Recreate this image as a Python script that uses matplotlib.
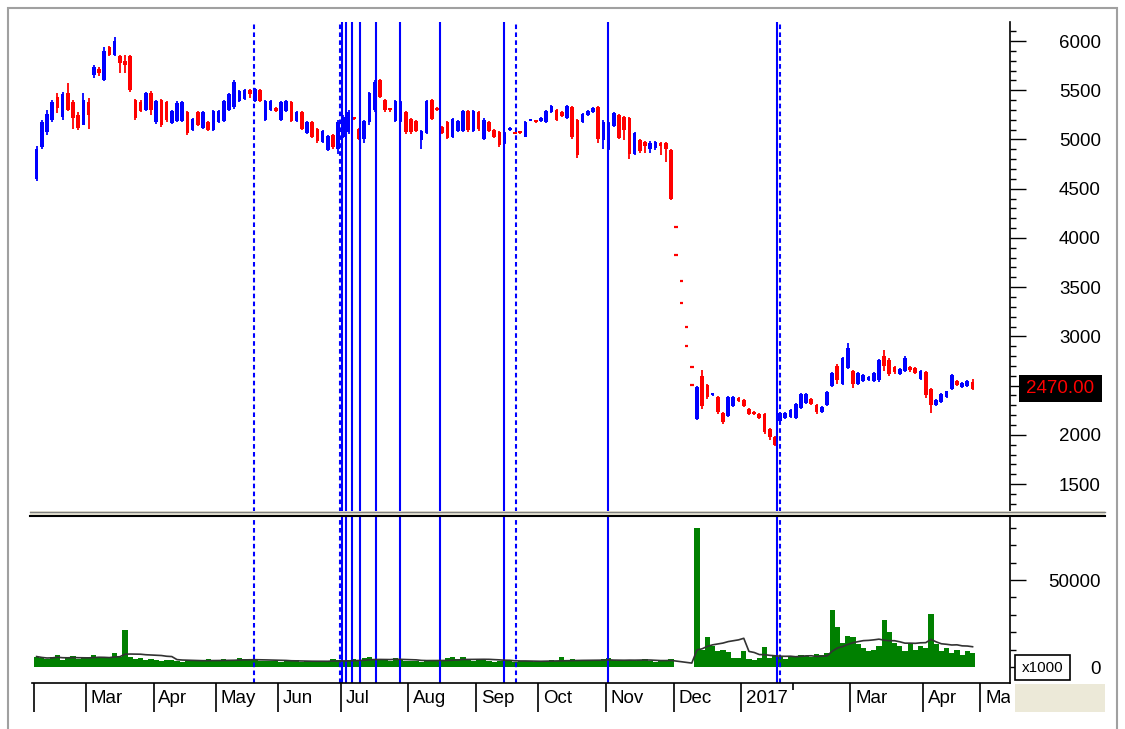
import numpy as np
import pandas as pd
import matplotlib
matplotlib.use("Agg")
import matplotlib.pyplot as plt
from matplotlib.patches import Rectangle
from matplotlib.lines import Line2D

plt.rcParams['font.family'] = ['Liberation Sans', 'DejaVu Sans']

# month separators on the date row (Feb 2016 partial .. May 2017), bars per month
month_labels = ['', 'Mar', 'Apr', 'May', 'Jun', 'Jul', 'Aug', 'Sep', 'Oct', 'Nov',
                'Dec', '2017', '', 'Mar', 'Apr', 'May']
month_bars = [10, 13, 12, 12, 12, 13, 13, 12, 13, 13, 13, 10, 11, 14, 11]

#region daily price data (one entry per bar)
opens = [
    4600, 4920, 5080, 5200, 5430, 5230, 5470, 5380, 5250, 5150,                      # Feb
    5380, 5650, 5720, 5600, 5940, 5860, 5850, 5800, 5850, 5400, 5380, 5300, 5470,    # Mar
    5180, 5400, 5380, 5170, 5190, 5190, 5280, 5100, 5280, 5120, 5180, 5100,          # Apr
    5180, 5190, 5300, 5330, 5390, 5410, 5500, 5390, 5500, 5200, 5300, 5320,          # May
    5200, 5290, 5380, 5190, 5280, 5070, 5180, 5110, 4970, 4890, 5050, 4900,          # Jun
    5020, 5080, 5220, 5110, 5000, 5180, 5300, 5600, 5400, 5310, 5190, 5190, 5280,    # Jul
    5210, 5190, 4990, 5070, 5400, 5310, 5130, 5180, 5020, 5090, 5090, 5290, 5090,    # Aug
    5280, 5000, 5180, 5100, 5080, 4960, 5100, 5070, 5075, 5030, 5190, 5195,          # Sep
    5190, 5180, 5280, 5300, 5280, 5220, 5330, 5200, 5180, 5250, 5280, 5330, 4990,    # Oct
    4900, 5140, 5250, 5230, 5220, 4850, 4990, 4970, 4900, 4910, 4960, 4960, 4890,    # Nov
    4110, 3560, 3100, 2690, 2160, 2600, 2510, 2400, 2380, 2220, 2190, 2290, 2370,    # Dec
    2350, 2260, 2230, 2210, 2210, 2060, 1980, 2140, 2170, 2180,                      # Jan
    2170, 2270, 2320, 2360, 2300, 2230, 2300, 2500, 2700, 2520, 2680,                # Feb
    2650, 2520, 2550, 2560, 2550, 2560, 2800, 2760, 2690, 2620, 2650, 2690, 2680, 2570,  # Mar
    2640, 2470, 2300, 2330, 2380, 2470, 2550, 2490, 2500, 2540,                      # Apr
]
highs = [
    4930, 5200, 5300, 5400, 5470, 5480, 5570, 5400, 5280, 5470,
    5420, 5760, 5740, 5940, 5945, 6040, 5860, 5860, 5860, 5410, 5400, 5480, 5490,
    5400, 5410, 5390, 5300, 5390, 5390, 5290, 5220, 5290, 5290, 5190, 5300,
    5300, 5400, 5470, 5600, 5500, 5510, 5510, 5520, 5510, 5400, 5400, 5330,
    5390, 5400, 5390, 5290, 5290, 5190, 5190, 5120, 5100, 5050, 5060, 5200,
    5250, 5300, 5230, 5120, 5200, 5480, 5600, 5610, 5410, 5320, 5400, 5390, 5290,
    5220, 5200, 5100, 5400, 5410, 5330, 5140, 5190, 5220, 5200, 5300, 5300, 5300,
    5290, 5220, 5190, 5110, 5090, 5080, 5130, 5075, 5080, 5190, 5205, 5200,
    5230, 5300, 5350, 5310, 5290, 5350, 5340, 5210, 5270, 5300, 5330, 5340, 5200,
    5180, 5280, 5260, 5240, 5230, 5080, 5000, 4980, 4980, 4980, 4970, 4970, 4900,
    4110, 3560, 3100, 2690, 2500, 2660, 2520, 2420, 2390, 2230, 2390, 2390, 2380,
    2360, 2270, 2240, 2220, 2220, 2070, 1990, 2230, 2230, 2260,
    2320, 2420, 2420, 2370, 2310, 2290, 2440, 2640, 2720, 2790, 2930,
    2660, 2640, 2620, 2600, 2640, 2770, 2860, 2780, 2700, 2680, 2800, 2700, 2690, 2660,
    2650, 2480, 2360, 2420, 2450, 2620, 2560, 2540, 2560, 2570,
]
lows = [
    4575, 4900, 5045, 5180, 5265, 5200, 5290, 5110, 5100, 5150,
    5110, 5620, 5640, 5590, 5850, 5850, 5670, 5670, 5480, 5200, 5280, 5290, 5250,
    5160, 5130, 5180, 5160, 5180, 5180, 5050, 5090, 5140, 5110, 5090, 5090,
    5170, 5180, 5290, 5310, 5380, 5400, 5420, 5380, 5380, 5190, 5290, 5280,
    5190, 5280, 5180, 5180, 5100, 5060, 5010, 4960, 4960, 4880, 4900, 4850,
    5010, 5060, 5200, 4990, 4960, 5150, 5280, 5420, 5280, 5280, 5180, 5180, 5060,
    5060, 5080, 4900, 5060, 5200, 5290, 5060, 5000, 5010, 5080, 5080, 5080, 5080,
    5090, 4990, 5080, 5010, 4920, 4950, 5090, 5055, 5060, 5020, 5185, 5170,
    5180, 5170, 5270, 5190, 5230, 5210, 5000, 4810, 5170, 5240, 5270, 4960, 4900,
    4890, 5130, 5000, 4990, 4800, 4840, 4860, 4860, 4860, 4890, 4840, 4770, 4380,
    3830, 3340, 2900, 2510, 2150, 2260, 2360, 2395, 2210, 2110, 2180, 2280, 2330,
    2280, 2200, 2200, 2160, 2010, 1950, 1890, 2130, 2160, 2170,
    2160, 2260, 2310, 2300, 2210, 2220, 2290, 2490, 2520, 2510, 2670,
    2480, 2510, 2540, 2550, 2540, 2540, 2650, 2600, 2620, 2610, 2640, 2640, 2620, 2560,
    2370, 2220, 2290, 2320, 2370, 2460, 2500, 2480, 2490, 2460,
]
closes = [
    4900, 5180, 5260, 5380, 5320, 5460, 5300, 5220, 5120, 5400,
    5250, 5740, 5680, 5900, 5860, 6000, 5780, 5760, 5500, 5220, 5290, 5470, 5300,
    5390, 5150, 5200, 5290, 5370, 5380, 5070, 5210, 5150, 5280, 5100, 5290,
    5290, 5390, 5460, 5580, 5490, 5500, 5460, 5510, 5390, 5390, 5390, 5290,
    5380, 5390, 5190, 5280, 5110, 5180, 5030, 4980, 5090, 5040, 4920, 5180,
    5230, 5280, 5210, 5000, 5190, 5470, 5580, 5430, 5300, 5300, 5390, 5380, 5080,
    5080, 5090, 5090, 5390, 5210, 5300, 5070, 5010, 5210, 5190, 5290, 5100, 5290,
    5110, 5200, 5090, 5020, 4940, 5070, 5120, 5060, 5062, 5180, 5200, 5180,
    5220, 5290, 5340, 5200, 5240, 5340, 5020, 4840, 5260, 5290, 5320, 5000, 5180,
    5170, 5270, 5010, 5100, 4850, 5070, 4880, 4930, 4960, 4970, 4930, 4900, 4400,
    3830, 3340, 2900, 2510, 2490, 2290, 2380, 2415, 2230, 2130, 2380, 2380, 2340,
    2290, 2210, 2210, 2170, 2030, 1980, 1900, 2220, 2220, 2250,
    2310, 2410, 2410, 2310, 2230, 2280, 2430, 2630, 2560, 2780, 2880,
    2520, 2630, 2610, 2590, 2630, 2760, 2700, 2620, 2640, 2670, 2780, 2660, 2630, 2650,
    2400, 2300, 2350, 2410, 2440, 2610, 2510, 2530, 2550, 2470,
]
# limit-down days with no trade: only the indicative quotes are shown
quote_days = [123, 124, 125, 126]

volume = [
    6000, 5000, 4500, 5500, 7000, 4000, 5000, 6500, 4500, 5000,
    5500, 7000, 6000, 5000, 5500, 8000, 6000, 21000, 5500, 4500, 5000, 4000, 4500,
    4000, 3500, 3800, 4200, 3500, 3000, 3600, 4000, 3200, 3500, 4500, 3800,
    4000, 4500, 3500, 4200, 5000, 4500, 3800, 4200, 3600, 3500, 3200, 3400,
    3000, 3500, 3200, 3800, 3000, 3200, 3500, 3400, 3000, 3300, 4500, 3800,
    3500, 4000, 4500, 3800, 5000, 6000, 4500, 3800, 4000, 3600, 5000, 3800, 3500,
    3200, 3600, 3000, 3500, 4000, 3800, 4200, 5000, 5500, 4500, 6000, 4000, 3500,
    4000, 3800, 3500, 3000, 3200, 3500, 4000, 3000, 3200, 3500, 3300, 3000,
    3200, 3500, 4000, 3300, 5500, 3800, 4500, 3500, 3800, 3200, 4000, 3500, 4500,
    5000, 3800, 3500, 4000, 4200, 3500, 3800, 4500, 3200, 3000, 3500, 3800, 4500,
    0, 0, 0, 0, 80000, 10000, 17000, 12000, 9000, 9500, 8500, 5000, 5000,
    9000, 4500, 4000, 5000, 11500, 5000, 7000, 6000, 4500, 5500,
    6000, 7000, 6500, 5500, 7500, 7000, 8000, 33000, 23000, 14000, 18000,
    17000, 13000, 11000, 9000, 10000, 12000, 27000, 20000, 14000, 12000, 9000, 13000, 10000, 12000,
    11000, 30500, 13000, 9000, 11000, 8000, 10000, 7000, 9000, 8000,
]

# vertical event markers, in bar positions
events_solid = [58.7, 59.5, 60.65, 62.2, 65.3, 69.9, 77.6, 89.9, 109.9, 142.4]
events_dashed = [41.8, 58.3, 92.2, 142.96]
#endregion

W, H = 1125, 729
BLUE = '#0000ff'
RED = '#ff0000'
GREEN = '#008000'
BEIGE = '#ece9d8'
FS = 13.5

def box(l, t, r, b):
    # pixel box (top-left origin) -> figure fraction rect
    return [l / W, 1 - b / H, (r - l) / W, (b - t) / H]

fig = plt.figure(figsize=(W / 100, H / 100), dpi=100)
fig.patch.set_facecolor('white')

ax = fig.add_axes(box(32, 22, 1010, 512))
axv = fig.add_axes(box(32, 517, 1010, 683))
axd = fig.add_axes(box(32, 683, 1010, 712))

x = np.arange(len(closes))
o, h, l, c = (np.array(v, dtype=float) for v in (opens, highs, lows, closes))
col = np.where(c >= o, BLUE, RED)
normal = ~np.isin(x, quote_days)
xmin, xmax = -0.885, 187.2
last = closes[-1]

#region price panel
ax.vlines(x[normal], l[normal], h[normal], colors=col[normal], lw=1.3)
body_lo = np.minimum(o, c)
body_h = np.maximum(np.abs(c - o), 20)
ax.bar(x[normal], body_h[normal], bottom=body_lo[normal], width=0.72,
       color=col[normal], lw=0)
q = np.array(quote_days)
ax.hlines(o[q], q - 0.35, q + 0.35, colors=RED, lw=1.6)
ax.hlines(c[q], q - 0.35, q + 0.35, colors=RED, lw=1.6)

for a in (ax, axv):
    for p in events_solid:
        a.axvline(p, color=BLUE, lw=1.5)
    for p in events_dashed:
        a.axvline(p, color=BLUE, lw=1.5, ls=(0, (2.2, 1.6)))

ax.set_xlim(xmin, xmax)
ax.set_ylim(1216, 6193)
for s in ['top', 'left', 'bottom']:
    ax.spines[s].set_visible(False)
ax.spines['right'].set_linewidth(1.2)
ax.set_xticks([])
ax.yaxis.tick_right()
price_ticks = list(range(1500, 6001, 500))
ax.set_yticks(price_ticks)
# the last-price box sits over the nearest label
ax.set_yticklabels(['' if abs(t - last) < 150 else str(t) for t in price_ticks])
ax.set_yticks(range(1300, 6200, 100), minor=True)
ax.tick_params(axis='y', which='major', length=11.5, width=1, pad=54, labelsize=FS)
ax.tick_params(axis='y', which='minor', length=4.3, width=1)
for lab in ax.get_yticklabels():
    lab.set_horizontalalignment('right')
#endregion

#region volume panel
vol = pd.Series(volume, dtype=float)
vol_ma = vol.rolling(10, min_periods=1).mean()
axv.bar(x, vol, width=1.0, color=GREEN, lw=0)
axv.plot(x, vol_ma, color='#333333', lw=1.2)
axv.set_xlim(xmin, xmax)
axv.set_ylim(-9195, 86207)
for s in ['top', 'left']:
    axv.spines[s].set_visible(False)
axv.spines['right'].set_linewidth(1.2)
axv.spines['bottom'].set_linewidth(1.2)
axv.set_xticks([])
axv.yaxis.tick_right()
axv.set_yticks([0, 50000])
axv.set_yticklabels(['0', '50000'])
axv.set_yticks(range(10000, 86000, 10000), minor=True)
axv.tick_params(axis='y', which='major', length=11.5, width=1, pad=54, labelsize=FS)
axv.tick_params(axis='y', which='minor', length=4.3, width=1)
for lab in axv.get_yticklabels():
    lab.set_horizontalalignment('right')
#endregion

#region date row
axd.set_xlim(xmin, xmax)
axd.set_ylim(0, 1)
axd.axis('off')
bounds = np.concatenate([[0], np.cumsum(month_bars)]) - 0.5
for i, (b, lab) in enumerate(zip(bounds, month_labels)):
    top = 0.75 if (lab == '' and i > 0) else 0.0
    axd.vlines(b, top, 1, colors='black', lw=1.2)
    if lab:
        axd.text(b + 0.9, 0.45, lab, ha='left', va='center', fontsize=FS,
                 clip_on=True)
#endregion

#region frame, separator and boxes
def fig_rect(l, t, r, b, **kw):
    fig.patches.append(Rectangle((l / W, 1 - b / H), (r - l) / W, (b - t) / H,
                                 transform=fig.transFigure, **kw))

def fig_hline(y, l, r, **kw):
    fig.lines.append(Line2D([l / W, r / W], [1 - y / H, 1 - y / H],
                            transform=fig.transFigure, **kw))

fig_rect(8, 8, 1117, 735, fill=False, ec='#a0a0a0', lw=1.5)
fig_rect(30, 511, 1105, 517, fc=BEIGE, ec='none')
fig_hline(511.5, 30, 1105, color='#808080', lw=1)
fig_hline(516, 30, 1105, color='black', lw=1.5)
fig_rect(1015, 684, 1105, 712, fc=BEIGE, ec='none')

# multiplier box for volume
fig_rect(1015, 655, 1070, 680, fc='white', ec='black', lw=1.2, zorder=5)
fig.text(1042.5 / W, 1 - 667.5 / H, 'x1000', ha='center', va='center',
         fontsize=11, zorder=6)

# last price marker
y0, y1 = ax.get_ylim()
ypix = 22 + (y1 - last) / (y1 - y0) * 490
fig_rect(1019, ypix - 13.5, 1102, ypix + 13.5, fc='black', ec='none', zorder=5)
fig.text(1060.5 / W, 1 - ypix / H, f'{last:.2f}', ha='center', va='center',
         color=RED, fontsize=FS, zorder=6)
#endregion

fig.savefig('out.png', dpi=100)
